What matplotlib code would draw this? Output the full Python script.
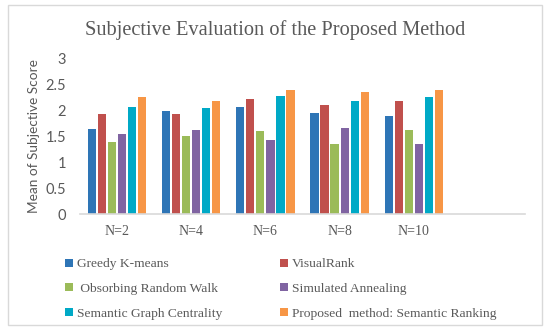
import matplotlib.pyplot as plt
import numpy as np
from matplotlib.patches import Rectangle

# category slots (the last one is an empty slot on the axis)
categories = ["N=2", "N=4", "N=6", "N=8", "N=10", ""]

methods = [
    "Greedy K-means",
    "VisualRank",
    " Obsorbing Random Walk",
    "Simulated Annealing",
    "Semantic Graph Centrality",
    "Proposed  method: Semantic Ranking",
]

greedy_kmeans = [1.65, 1.99, 2.06, 1.95, 1.90]
visual_rank = [1.92, 1.93, 2.21, 2.10, 2.17]
absorbing_walk = [1.40, 1.51, 1.61, 1.36, 1.63]
sim_annealing = [1.55, 1.63, 1.42, 1.66, 1.35]
graph_centrality = [2.07, 2.04, 2.28, 2.17, 2.26]
semantic_ranking = [2.25, 2.18, 2.39, 2.36, 2.39]

series = [greedy_kmeans, visual_rank, absorbing_walk,
          sim_annealing, graph_centrality, semantic_ranking]
colors = ["#2E75B6", "#C0504D", "#9BBB59", "#8064A2", "#00A9C6", "#F79646"]

fig = plt.figure(figsize=(5.5, 3.3), dpi=100)
ax = fig.add_axes([80 / 550, 1 - 214.3 / 330, 445 / 550, 156 / 330])

x = np.arange(len(categories))
step = 0.135
width = 0.11
handles = []
for i, (vals, c) in enumerate(zip(series, colors)):
    pos = x[:len(vals)] + (i - 2.5) * step
    h = ax.bar(pos, vals, width=width, color=c, label=methods[i])
    handles.append(h)

ax.set_xlim(-0.5, len(categories) - 0.5)
ax.set_ylim(0, 3)
ax.set_yticks([0, 0.5, 1, 1.5, 2, 2.5, 3])
ax.set_yticklabels(["0", "0.5", "1", "1.5", "2", "2.5", "3"])
ax.set_xticks(x)
ax.set_xticklabels(categories, family="Liberation Serif", fontsize=10, color="#595959")
for lab in ax.get_yticklabels():
    lab.set_family("Lato")
    lab.set_fontsize(10.5)
    lab.set_color("#595959")
ax.tick_params(axis="both", length=0)
ax.tick_params(axis="y", pad=10)
ax.tick_params(axis="x", pad=8)
for s in ["top", "right", "left"]:
    ax.spines[s].set_visible(False)
ax.spines["bottom"].set_color("#D9D9D9")
ax.spines["bottom"].set_linewidth(1.2)

ax.set_ylabel("Mean of Subjective Score", family="Lato", fontsize=9.8,
              color="#595959", labelpad=4)

fig.text(0.5, 1 - 30 / 330, "Subjective Evaluation of the Proposed Method",
         ha="center", va="center", family="Liberation Serif", fontsize=14.7,
         color="#595959")

# legend is row-wise in the reference, matplotlib fills column-wise
order = [0, 2, 4, 1, 3, 5]
fig.legend([handles[k] for k in order], [methods[k] for k in order],
           ncol=2, loc="upper left", bbox_to_anchor=(60 / 550, 1 - 253 / 330),
           frameon=False, prop={"family": "Liberation Serif", "size": 9.7},
           labelcolor="#595959", handlelength=0.55, handleheight=0.55,
           handletextpad=0.3, columnspacing=4.3, labelspacing=0.95,
           borderaxespad=0)

fig.patches.append(Rectangle((8 / 550, 5 / 330), 534 / 550, 320 / 330,
                             transform=fig.transFigure, fill=False,
                             edgecolor="#D9D9D9", linewidth=1))

fig.savefig("out.png", dpi=100)
